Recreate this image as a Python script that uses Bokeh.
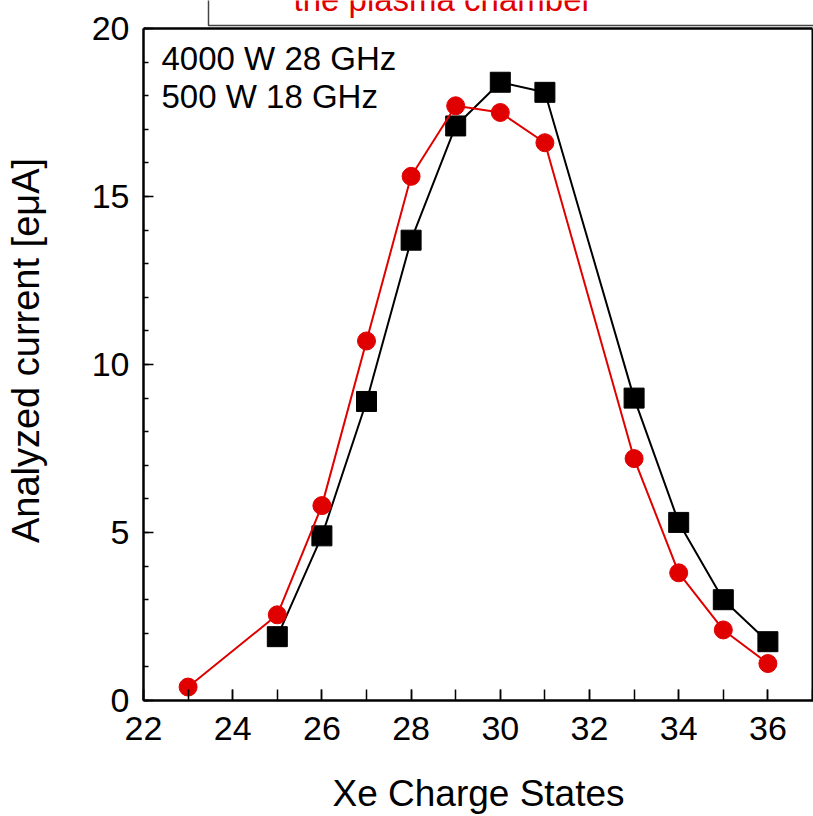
from bokeh.plotting import figure
from bokeh.embed import file_html
from bokeh.resources import INLINE
from bokeh.models import Label, FixedTicker, Range1d
from bokeh.core.properties import value

# data
charge_red = [23, 25, 26, 27, 28, 29, 30, 31, 33, 34, 35, 36]
current_red = [0.4, 2.55, 5.8, 10.7, 15.6, 17.7, 17.5, 16.6, 7.2, 3.8, 2.1, 1.1]
charge_black = [25, 26, 27, 28, 29, 30, 31, 33, 34, 35, 36]
current_black = [1.9, 4.9, 8.9, 13.7, 17.1, 18.4, 18.1, 9.0, 5.3, 3.0, 1.75]
x_ticks = [22, 24, 26, 28, 30, 32, 34, 36]
y_ticks = [0, 5, 10, 15, 20]
note_text = ["the plasma chamber"]

FONT = "Liberation Sans"
RED = "#e00000"

# geometry of the page (pixels)
W, H = 813, 816
FL, FB = 143, 700                 # frame left / bottom (page px)
X0, X1 = 22, 37                   # axis span of the plotted box
Y0, Y1 = 0, 20
PX_PER_X = (812 - FL) / (X1 - X0)
PX_PER_Y = (FB - 28) / (Y1 - Y0)

def px_to_x(px):
    return X0 + (px - FL) / PX_PER_X

def py_to_y(py):
    return Y0 + (FB - py) / PX_PER_Y

p = figure(width=W, height=H, output_backend="svg", toolbar_location=None,
           x_range=Range1d(X0, px_to_x(W)), y_range=Range1d(Y0, py_to_y(0)),
           min_border_left=FL, min_border_right=0, min_border_top=0,
           min_border_bottom=H - FB)

p.xgrid.visible = False
p.ygrid.visible = False
p.outline_line_color = None

p.xaxis.ticker = FixedTicker(ticks=x_ticks, minor_ticks=list(range(22, 38)))
p.yaxis.ticker = FixedTicker(ticks=y_ticks, minor_ticks=list(range(0, 21)))
p.yaxis.bounds = (Y0, Y1)

for ax in (p.xaxis[0], p.yaxis[0]):
    ax.axis_line_color = "black"
    ax.axis_line_width = 2.5
    ax.major_tick_line_color = "black"
    ax.minor_tick_line_color = "black"
    ax.major_tick_line_width = 1.5
    ax.minor_tick_line_width = 1.5
    ax.major_tick_out = 0
    ax.minor_tick_out = 0
    ax.major_label_text_font = FONT
    ax.major_label_text_font_size = "34px"
    ax.major_label_text_color = "black"
    ax.axis_label_text_font = FONT
    ax.axis_label_text_font_style = "normal"
    ax.axis_label_text_color = "black"

p.xaxis.axis_label_text_font_size = "37px"
p.yaxis.axis_label_text_font_size = "38px"

p.xaxis.major_tick_in = 11
p.xaxis.minor_tick_in = 11
p.yaxis.major_tick_in = 10
p.yaxis.minor_tick_in = 5

p.xaxis.axis_label = "Xe Charge States"
p.yaxis.axis_label = "Analyzed current [e\u03bcA]"
p.xaxis.major_label_standoff = 16
p.xaxis.axis_label_standoff = 30
p.yaxis.major_label_standoff = 14
p.yaxis.axis_label_standoff = 42

# top and right sides of the plot box
p.line([X0, X1], [Y1, Y1], line_color="black", line_width=2.5)
p.line([X1, X1], [Y0, Y1], line_color="black", line_width=2)

# cropped boxed note above the plot box
bx = px_to_x(208)
by = py_to_y(25)
p.line([bx, bx, px_to_x(W + 5)], [py_to_y(-5), by, by], line_color="#444444", line_width=1.5)
p.text(x=[px_to_x(293)], y=[py_to_y(-1)], text=note_text, text_font=value(FONT),
       text_font_size="33px", text_color=RED, text_baseline="alphabetic", text_align="left")

# series
p.line(charge_black, current_black, line_color="black", line_width=2)
p.scatter(charge_black, current_black, marker="square", size=20, fill_color="black", line_color="black")
p.line(charge_red, current_red, line_color=RED, line_width=2)
p.scatter(charge_red, current_red, marker="circle", size=18, fill_color=RED, line_color=RED)

# text annotations inside the frame
p.add_layout(Label(x=18, y=642, x_units="screen", y_units="screen", text="4000 W 28 GHz",
                   text_font=FONT, text_font_size="33px", text_color="black",
                   text_baseline="alphabetic"))
p.add_layout(Label(x=18, y=604, x_units="screen", y_units="screen", text="500 W 18 GHz",
                   text_font=FONT, text_font_size="33px", text_color="black",
                   text_baseline="alphabetic"))

open("out.html", "w").write(file_html(p, INLINE))
